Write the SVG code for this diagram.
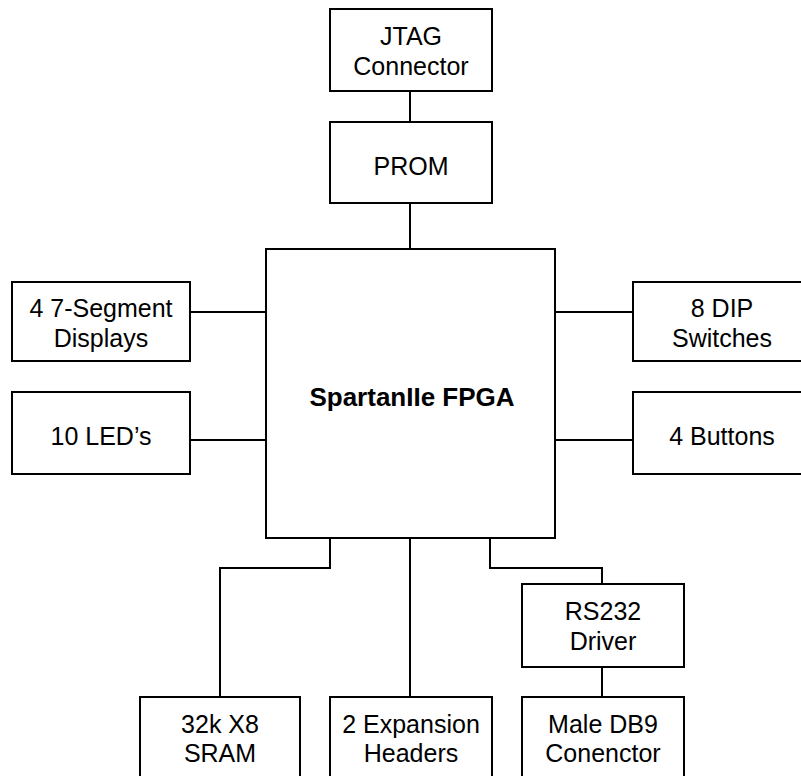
<svg xmlns="http://www.w3.org/2000/svg" width="801" height="776" viewBox="0 0 801 776">
<style>
rect{fill:#fff;stroke:#000;stroke-width:2}
.c path{fill:none;stroke:#000;stroke-width:2}
text{font-family:"Liberation Sans",Arial,sans-serif;font-size:25px;fill:#000;text-anchor:middle}
.b{font-weight:bold;font-size:26px}
</style>
<rect x="0" y="0" width="801" height="776" style="stroke:none"/>
<g class="c" id="connectors">
<path d="M410 91V122"/>
<path d="M410 203V249"/>
<path d="M189 312H266"/>
<path d="M189 440H266"/>
<path d="M555 312H633"/>
<path d="M555 440H633"/>
<path d="M330 538V568H220V697"/>
<path d="M410 538V697"/>
<path d="M490 538V568H602V584"/>
<path d="M602 667V697"/>
</g>
<g id="jtag"><rect x="330" y="9" width="162" height="82"/><text x="411" y="45">JTAG</text><text x="411" y="75">Connector</text></g>
<g id="prom"><rect x="330" y="122" width="162" height="81"/><text x="411" y="175">PROM</text></g>
<g id="fpga"><rect x="266" y="249" width="289" height="289"/><text class="b" x="412" y="406">SpartanIIe FPGA</text></g>
<g id="seg7"><rect x="12" y="282" width="178" height="79"/><text x="101" y="317">4 7-Segment</text><text x="101" y="347">Displays</text></g>
<g id="leds"><rect x="12" y="392" width="178" height="82"/><text x="101" y="445">10 LED’s</text></g>
<g id="dip"><rect x="633" y="282" width="178" height="79"/><text x="722" y="317">8 DIP</text><text x="722" y="347">Switches</text></g>
<g id="buttons"><rect x="633" y="392" width="178" height="82"/><text x="722" y="445">4 Buttons</text></g>
<g id="sram"><rect x="140" y="697" width="160" height="82"/><text x="220" y="733">32k X8</text><text x="220" y="762">SRAM</text></g>
<g id="expansion"><rect x="330" y="697" width="162" height="82"/><text x="411" y="733">2 Expansion</text><text x="411" y="762">Headers</text></g>
<g id="rs232"><rect x="522" y="584" width="162" height="83"/><text x="603" y="620">RS232</text><text x="603" y="650">Driver</text></g>
<g id="db9"><rect x="522" y="697" width="162" height="82"/><text x="603" y="733">Male DB9</text><text x="603" y="762">Conenctor</text></g>
</svg>
